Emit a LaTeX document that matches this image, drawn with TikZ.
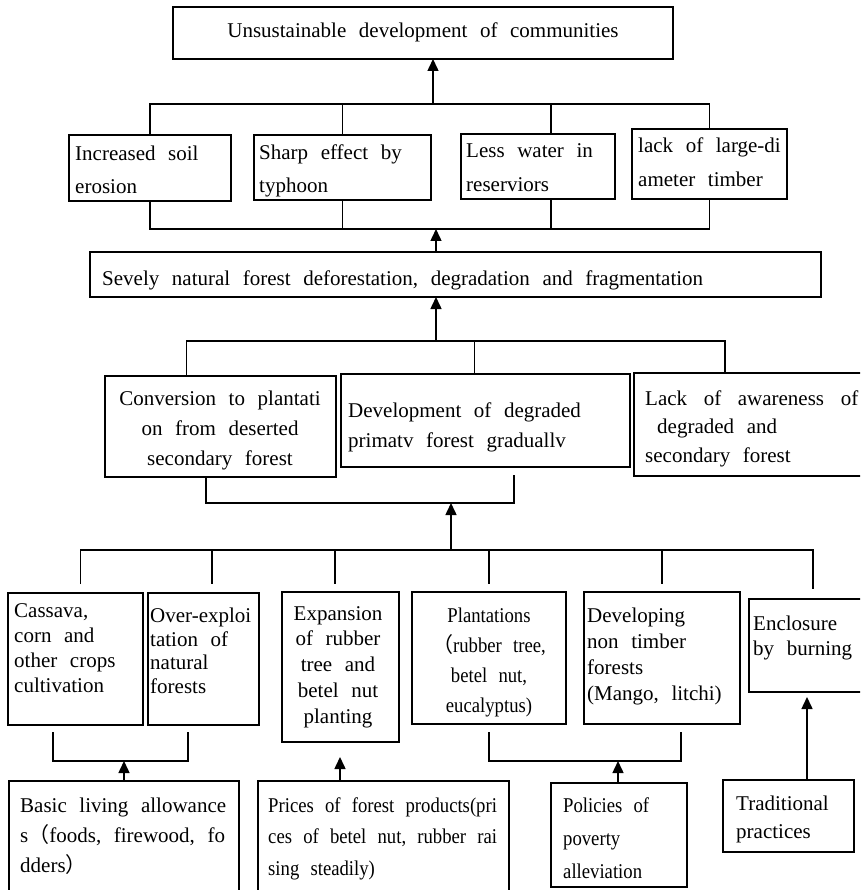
\documentclass[tikz,border=0pt]{standalone}
\usepackage{fontspec}
\setmainfont{Liberation Serif}[WordSpace=2.4]
\newfontfamily\narrowserif{Liberation Serif}[FakeStretch=0.89,WordSpace=2.4]
\newfontfamily\cjkfont{Noto Sans CJK SC}
\usetikzlibrary{arrows.meta}

\tikzset{
  box/.style={draw, line width=1.5pt, inner sep=0pt, outer sep=0pt},
  link/.style={line width=1.5pt},
  arr/.style={link, -{Triangle[length=12pt,width=11pt]}},
  % text blocks are placed by the baseline of their last line
  ltext/.style={inner sep=0pt, anchor=base west, align=left, font=\fontsize{21}{#1}\selectfont},
  ctext/.style={inner sep=0pt, anchor=base, align=center, font=\fontsize{21}{#1}\selectfont},
  nltext/.style={ltext=#1, font=\narrowserif\fontsize{21}{#1}\selectfont},
  nctext/.style={ctext=#1, font=\narrowserif\fontsize{21}{#1}\selectfont},
}

% empty framed box given by its corners (x1,y1) and (x2,y2)
\newcommand\mybox[5]{%
  \node[box, minimum width={(#4-#2)*1pt}, minimum height={(#5-#3)*1pt}]
    (#1) at ({(#2+#4)/2},{(#3+#5)/2}) {};}

\begin{document}
\begin{tikzpicture}[x=1pt,y=-1pt]
\useasboundingbox (0,0) rectangle (860,890);
\clip (0,0) rectangle (860,890);

% ---------- final consequence ----------
\mybox{top}{173}{7}{673}{59}
\node[ctext=25] (top-t) at (423,38) {Unsustainable development of communities};

% ---------- effects ----------
\mybox{b1}{69}{135}{231}{201}
\mybox{b2}{254}{135}{431}{200}
\mybox{b3}{461}{134}{615}{199}
\mybox{b4}{632}{129}{787}{199}
\node[ltext=33] (b1-t) at (75,194) {Increased soil\\erosion};
\node[ltext=33] (b2-t) at (259,193) {Sharp effect by\\typhoon};
\node[ltext=34] (b3-t) at (466,192) {Less water in\\reserviors};
\node[ltext=34] (b4-t) at (638,187) {lack of large-di\\ameter timber};

\coordinate (effU) at (0,104);
\coordinate (effL) at (0,229);
\coordinate (b3x) at (551,0);
\coordinate (upA) at (433,104);

\draw[link] (b1.north) -- (b1.north |- effU) -- (b4.north |- effU) -- (b4.north);
\draw[link] (b2.north) -- (b2.north |- effU);
\draw[link] (b3x |- b3.north) -- (b3x |- effU);
\draw[link] (b1.south) -- (b1.south |- effL) -- (b4.south |- effL) -- (b4.south);
\draw[link] (b2.south) -- (b2.south |- effL);
\draw[link] (b3x |- b3.south) -- (b3x |- effL);
\draw[arr] (upA) -- (upA |- top.south);

% ---------- forest loss ----------
\mybox{sev}{90}{252}{821}{297}
\node[ltext=25] (sev-t) at (102,285) {Sevely natural forest deforestation, degradation and fragmentation};
\coordinate (sevx) at (436,0);
\draw[arr] (sevx |- sev.north) -- (sevx |- effL);

% ---------- causes ----------
\mybox{c1}{105}{376}{336}{477}
\mybox{c2}{341}{374}{630}{467}
\mybox{c3}{634}{373}{880}{476}
\node[ctext=30] (c1-t) at (220,465) {Conversion to plantati\\on from deserted\\secondary forest};
\node[ltext=30] (c2-t) at (348,447) {Development of degraded\\primatv forest graduallv};
\node[ltext=28.5] (c3-t) at (645,462) {Lack\hspace{4pt} of\hspace{4pt} awareness\hspace{4pt} of\\\hspace*{12pt}degraded and\\secondary forest};

\coordinate (cauU) at (0,341);
\coordinate (c1x) at (186.5,0);
\coordinate (c2x) at (474.5,0);
\coordinate (c3x) at (725,0);
\draw[link] (c1x |- c1.north) -- (c1x |- cauU) -- (c3x |- cauU) -- (c3x |- c3.north);
\draw[link] (c2x |- c2.north) -- (c2x |- cauU);
\draw[arr] (sevx |- cauU) -- (sevx |- sev.south);

\coordinate (brA) at (0,503);
\coordinate (c1b) at (206,0);
\coordinate (c2b) at (514,475);
\draw[link] (c1b |- c1.south) -- (c1b |- brA) -- (c2b |- brA) -- (c2b);

% ---------- land-use activities ----------
\coordinate (actU) at (0,550);
\coordinate (cauA) at (451,0);
\draw[arr] (cauA |- actU) -- (cauA |- brA);

\mybox{d1}{8}{593}{143}{725}
\mybox{d2}{148}{593}{259}{725}
\mybox{d3}{282}{592}{399}{742}
\mybox{d4}{412}{592}{566}{724}
\mybox{d5}{584}{592}{740}{724}
\mybox{d6}{749}{599}{880}{692}
\node[ltext=25] (d1-t) at (14,692) {Cassava,\\corn and\\other crops\\cultivation};
\node[ltext=23.5] (d2-t) at (150,693) {Over-exploi\\tation of\\natural\\forests};
\node[ctext=25.7] (d3-t) at (338,723) {Expansion\\of rubber\\tree and\\betel nut\\planting};
\node[nctext=29.7] (d4-t) at (489,712) {Plantations\\{\cjkfont （}rubber tree,\\betel nut,\\eucalyptus)};
\node[ltext=25.7] (d5-t) at (587,700) {Developing\\non timber\\forests\\(Mango, litchi)};
\node[ltext=25] (d6-t) at (753,655) {Enclosure\\by burning};

\coordinate (d1x) at (80.6,0);
\coordinate (d2x) at (212,0);
\coordinate (d3x) at (335,0);
\coordinate (d4x) at (489,0);
\coordinate (d5x) at (662,0);
\coordinate (d6x) at (813,0);
\draw[link, shorten <=9pt, shorten >=10pt] (d1x |- d1.north) -- (d1x |- actU) -- (d6x |- actU) -- (d6x |- d6.north);
\draw[link, shorten >=9pt] (d2x |- actU) -- (d2x |- d2.north);
\draw[link, shorten >=8pt] (d3x |- actU) -- (d3x |- d3.north);
\draw[link, shorten >=8pt] (d4x |- actU) -- (d4x |- d4.north);
\draw[link, shorten >=8pt] (d5x |- actU) -- (d5x |- d5.north);

% ---------- driving forces ----------
\mybox{e1}{9}{781}{239}{900}
\mybox{e2}{258}{781}{509}{900}
\mybox{e3}{551}{783}{687}{887}
\mybox{e4}{723}{780}{854}{852}
\node[ltext=30] (e1-t) at (20,872) {Basic living allowance\\s{\cjkfont （}foods, firewood, fo\\dders{\cjkfont ）}};
\node[nltext=31.5] (e2-t) at (268,875) {Prices of forest products(pri\\ces of betel nut, rubber rai\\sing steadily)};
\node[nltext=33] (e3-t) at (563,878) {Policies of\\poverty\\alleviation};
\node[ltext=28] (e4-t) at (736,838) {Traditional\\practices};

\coordinate (brB) at (0,761);
\coordinate (d1b) at (53,732);
\coordinate (d2b) at (188,732);
\coordinate (d4b) at (489,732);
\coordinate (d5b) at (681,732);
\draw[link] (d1b) -- (d1b |- brB) -- (d2b |- brB) -- (d2b);
\draw[link] (d4b) -- (d4b |- brB) -- (d5b |- brB) -- (d5b);

\coordinate (e1x) at (124,0);
\coordinate (e2x) at (340,0);
\coordinate (e2tip) at (340,757);
\coordinate (e3x) at (618,0);
\coordinate (e4x) at (807,0);
\draw[arr] (e1x |- e1.north) -- (e1x |- brB);
\draw[arr] (e2x |- e2.north) -- (e2tip);
\draw[arr] (e3x |- e3.north) -- (e3x |- brB);
\draw[arr, shorten >=5pt] (e4x |- e4.north) -- (e4x |- d6.south);
\end{tikzpicture}
\end{document}
